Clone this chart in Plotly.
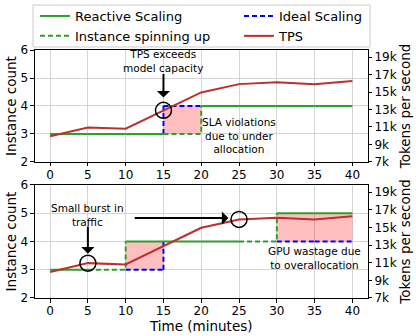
import plotly.graph_objects as go

# time axis (minutes) and TPS samples
minutes = [0, 5, 10, 15, 20, 25, 30, 35, 40]
tps = [9950, 10950, 10800, 12900, 14950, 15900, 16100, 15900, 16250]

# per 5-minute interval: instance counts and whether an instance is spinning up
top_reactive = [3, 3, 3, 3, 4, 4, 4, 4]
top_ideal = [3, 3, 3, 4, 4, 4, 4, 4]
top_spinup = [0, 0, 0, 1, 0, 0, 0, 0]

bot_reactive = [3, 3, 4, 4, 4, 4, 5, 5]
bot_ideal = [3, 3, 3, 4, 4, 4, 4, 4]
bot_spinup = [0, 1, 0, 0, 0, 1, 0, 0]

tps_ticks = [7000, 9000, 11000, 13000, 15000, 17000, 19000]
tps_ticktext = ["7k", "9k", "11k", "13k", "15k", "17k", "19k"]

GREEN = "#2ca02c"
BLUE = "#0000ff"
RED = "#b8312f"
PINK = "rgba(255,0,0,0.25)"
DASH = "5px,3px"
FONT = "DejaVu Sans"


def step_pieces(reactive, ideal, spinup):
    solid_x, solid_y, dash_x, dash_y = [], [], [], []
    ideal_x, ideal_y, fill_x, fill_y = [], [], [], []
    n = len(reactive)
    for i in range(n):
        t0, t1 = minutes[i], minutes[i + 1]
        r = reactive[i]
        if spinup[i]:
            dash_x += [t0, t1, t1, None]
            dash_y += [r, r, reactive[i + 1], None]
        else:
            solid_x += [t0, t1, None]
            solid_y += [r, r, None]
        if ideal[i] != r:
            v = ideal[i]
            if i > 0 and ideal[i - 1] != v:
                ideal_x += [t0, t0, None]
                ideal_y += [ideal[i - 1], v, None]
            ideal_x += [t0, t1, None]
            ideal_y += [v, v, None]
            if i < n - 1 and ideal[i + 1] != v:
                ideal_x += [t1, t1, None]
                ideal_y += [v, ideal[i + 1], None]
            fill_x += [t0, t1, t1, t0, t0, None]
            fill_y += [r, r, v, v, r, None]
    return solid_x, solid_y, dash_x, dash_y, ideal_x, ideal_y, fill_x, fill_y


fig = go.Figure()

for row, (reac, ide, spin) in enumerate([(top_reactive, top_ideal, top_spinup),
                                         (bot_reactive, bot_ideal, bot_spinup)]):
    xa = "x" if row == 0 else "x2"
    ya = "y" if row == 0 else "y3"
    ya2 = "y2" if row == 0 else "y4"
    sx, sy, dx, dy, ix, iy, fx, fy = step_pieces(reac, ide, spin)
    show = row == 0
    fig.add_trace(go.Scatter(x=fx, y=fy, xaxis=xa, yaxis=ya, mode="lines", fill="toself",
                             fillcolor=PINK, line=dict(width=0), showlegend=False, hoverinfo="skip"))
    fig.add_trace(go.Scatter(x=ix, y=iy, xaxis=xa, yaxis=ya, mode="lines", name="Ideal Scaling",
                             line=dict(color=BLUE, width=2, dash=DASH), showlegend=show,
                             legend="legend2", legendrank=1))
    fig.add_trace(go.Scatter(x=sx, y=sy, xaxis=xa, yaxis=ya, mode="lines", name="Reactive Scaling",
                             line=dict(color=GREEN, width=2), showlegend=show,
                             legend="legend", legendrank=1))
    fig.add_trace(go.Scatter(x=dx, y=dy, xaxis=xa, yaxis=ya, mode="lines", name="Instance spinning up",
                             line=dict(color=GREEN, width=2, dash=DASH), showlegend=show,
                             legend="legend", legendrank=2))
    fig.add_trace(go.Scatter(x=minutes, y=tps, xaxis=xa, yaxis=ya2, mode="lines", name="TPS",
                             line=dict(color=RED, width=2), showlegend=show,
                             legend="legend2", legendrank=2))

axis_common = dict(showline=True, linecolor="black", linewidth=1, mirror=True, ticks="outside",
                   ticklen=3.5, tickcolor="black", tickfont=dict(size=12, color="black"),
                   zeroline=False, automargin=False)

XDOM = [0.0631, 0.9028]
x_common = dict(domain=XDOM, range=[-2, 42], tickvals=minutes, showgrid=True, gridcolor="#d4d4d4",
                ticklabelstandoff=-2, **axis_common)
y_common = dict(range=[2, 6], dtick=1, showgrid=True, gridcolor="#d4d4d4",
                title=dict(text="Instance count", font=dict(size=13.5, color="black"), standoff=0),
                **axis_common)
y2_common = dict(range=[7000, 19800], tickvals=tps_ticks, ticktext=tps_ticktext, side="right",
                 showgrid=False, showline=True, linecolor="black", ticks="outside", ticklen=3.5,
                 tickcolor="black", tickfont=dict(size=12, color="black"), zeroline=False,
                 automargin=False,
                 title=dict(text="Tokens per second", font=dict(size=13.5, color="black"), standoff=3))

legend_common = dict(orientation="v", yanchor="top", xanchor="left", y=0.9966, borderwidth=0,
                     bgcolor="rgba(0,0,0,0)", font=dict(size=13, color="black"), tracegroupgap=0)

fig.update_layout(
    width=416, height=336,
    margin=dict(l=10, r=10, t=0, b=38),
    plot_bgcolor="rgba(0,0,0,0)", paper_bgcolor="white",
    font=dict(family=FONT, color="black"),
    xaxis=dict(anchor="y", **x_common),
    yaxis=dict(domain=[0.4564, 0.8322], anchor="x", **y_common),
    yaxis2=dict(overlaying="y", anchor="x", **y2_common),
    xaxis2=dict(anchor="y3",
                title=dict(text="Time (minutes)", font=dict(size=13.5, color="black"), standoff=0),
                **x_common),
    yaxis3=dict(domain=[0, 0.3792], anchor="x2", **y_common),
    yaxis4=dict(overlaying="y3", anchor="x2", **y2_common),
    legend=dict(x=0.0631, **legend_common),
    legend2=dict(x=0.5783, **legend_common),
    showlegend=True,
)

# legend frame
fig.add_shape(type="rect", xref="paper", yref="paper", x0=0.0581, x1=0.9091, y0=0.8423, y1=0.9832,
              line=dict(color="#cccccc", width=1), layer="below")

ann_font = dict(size=10.5, color="black", family=FONT)
# text labels
fig.add_annotation(x=15, y=5.59, xref="x", yref="y", text="TPS exceeds<br>model capacity",
                   showarrow=False, font=ann_font)
fig.add_annotation(x=25, y=2.93, xref="x", yref="y", text="SLA violations<br>due to under<br>allocation",
                   showarrow=False, font=ann_font)
fig.add_annotation(x=5, y=4.94, xref="x2", yref="y3", text="Small burst in<br>traffic",
                   showarrow=False, font=ann_font)
fig.add_annotation(x=35, y=3.41, xref="x2", yref="y3", text="GPU wastage due<br>to overallocation",
                   showarrow=False, font=ann_font)

# arrows
arrow = dict(text="", showarrow=True, arrowhead=1, arrowsize=1.1, arrowwidth=2, arrowcolor="black")
fig.add_annotation(x=15, y=4.3, ax=15, ay=5.2, xref="x", yref="y", axref="x", ayref="y", **arrow)
fig.add_annotation(x=5, y=3.57, ax=5, ay=4.58, xref="x2", yref="y3", axref="x2", ayref="y3", **arrow)
fig.add_annotation(x=23.6, y=4.83, ax=11, ay=4.83, xref="x2", yref="y3", axref="x2", ayref="y3", **arrow)

# circles around TPS points of interest
for xr, yr, idx in [("x", "y2", 3), ("x2", "y4", 1), ("x2", "y4", 5)]:
    fig.add_shape(type="circle", xref=xr, yref=yr, xsizemode="pixel", ysizemode="pixel",
                  xanchor=minutes[idx], yanchor=tps[idx], x0=-8, x1=8, y0=-8, y1=8,
                  line=dict(color="black", width=1.5))

# the page's default 8px body margin would shift the figure
fig.write_html("out.html", config={"displayModeBar": False},
               post_script="document.body.style.margin = '0';")
